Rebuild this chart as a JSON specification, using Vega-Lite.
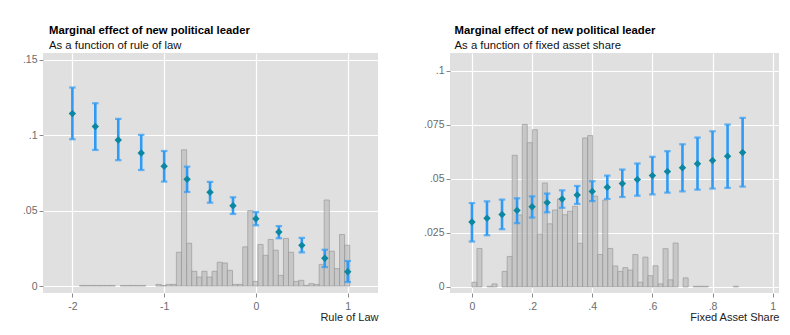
{
  "$schema": "https://vega.github.io/schema/vega-lite/v6.json",
  "background": "white",
  "padding": {"left": 18, "top": 25, "right": 5, "bottom": 5},
  "spacing": 45,
  "config": {
    "font": "Liberation Sans",
    "view": {"fill": "#e0e0e0", "stroke": null},
    "axis": {
      "domain": false,
      "grid": true,
      "gridColor": "#ffffff",
      "gridWidth": 1.2,
      "tickColor": "#8a8a8a",
      "tickSize": 4,
      "labelColor": "#6b6b6b",
      "labelFont": "Liberation Sans",
      "labelFontSize": 10.5,
      "titleFont": "Liberation Sans",
      "titleFontWeight": "normal",
      "titleFontSize": 11,
      "titleColor": "#222222"
    },
    "axisY": {"labelPadding": 2, "minExtent": 25, "maxExtent": 25},
    "axisX": {"labelPadding": 4, "titlePadding": 0, "titleAnchor": "end"},
    "title": {
      "fontSize": 11.3,
      "fontWeight": "bold",
      "color": "#000000",
      "subtitleFontSize": 11.3,
      "subtitleColor": "#111111",
      "subtitlePadding": 3,
      "anchor": "start",
      "offset": 2,
      "dx": 31
    }
  },
  "datasets": {
    "rol_hist": [
      {"x0": -1.922, "x1": -1.866, "density": 0.0004},
      {"x0": -1.866, "x1": -1.811, "density": 0.0004},
      {"x0": -1.811, "x1": -1.755, "density": 0.0004},
      {"x0": -1.755, "x1": -1.700, "density": 0.0004},
      {"x0": -1.700, "x1": -1.644, "density": 0.0004},
      {"x0": -1.644, "x1": -1.589, "density": 0.0004},
      {"x0": -1.589, "x1": -1.533, "density": 0.0004},
      {"x0": -1.478, "x1": -1.422, "density": 0.0004},
      {"x0": -1.422, "x1": -1.367, "density": 0.0004},
      {"x0": -1.367, "x1": -1.311, "density": 0.0004},
      {"x0": -1.311, "x1": -1.255, "density": 0.0004},
      {"x0": -1.255, "x1": -1.200, "density": 0.0004},
      {"x0": -1.089, "x1": -1.033, "density": 0.0011},
      {"x0": -1.033, "x1": -0.978, "density": 0.0004},
      {"x0": -0.978, "x1": -0.922, "density": 0.0011},
      {"x0": -0.922, "x1": -0.867, "density": 0.0011},
      {"x0": -0.867, "x1": -0.811, "density": 0.0224},
      {"x0": -0.811, "x1": -0.755, "density": 0.0904},
      {"x0": -0.755, "x1": -0.700, "density": 0.0284},
      {"x0": -0.700, "x1": -0.644, "density": 0.0098},
      {"x0": -0.644, "x1": -0.589, "density": 0.0060},
      {"x0": -0.589, "x1": -0.533, "density": 0.0098},
      {"x0": -0.533, "x1": -0.478, "density": 0.0060},
      {"x0": -0.478, "x1": -0.422, "density": 0.0098},
      {"x0": -0.422, "x1": -0.367, "density": 0.0158},
      {"x0": -0.367, "x1": -0.311, "density": 0.0153},
      {"x0": -0.311, "x1": -0.255, "density": 0.0104},
      {"x0": -0.255, "x1": -0.200, "density": 0.0011},
      {"x0": -0.200, "x1": -0.144, "density": 0.0011},
      {"x0": -0.144, "x1": -0.089, "density": 0.0260},
      {"x0": -0.089, "x1": -0.033, "density": 0.0500},
      {"x0": -0.033, "x1": 0.022, "density": 0.0031},
      {"x0": 0.022, "x1": 0.078, "density": 0.0276},
      {"x0": 0.078, "x1": 0.133, "density": 0.0204},
      {"x0": 0.133, "x1": 0.189, "density": 0.0309},
      {"x0": 0.189, "x1": 0.244, "density": 0.0238},
      {"x0": 0.244, "x1": 0.300, "density": 0.0071},
      {"x0": 0.300, "x1": 0.355, "density": 0.0316},
      {"x0": 0.355, "x1": 0.411, "density": 0.0224},
      {"x0": 0.411, "x1": 0.466, "density": 0.0031},
      {"x0": 0.466, "x1": 0.522, "density": 0.0038},
      {"x0": 0.522, "x1": 0.577, "density": 0.0004},
      {"x0": 0.577, "x1": 0.633, "density": 0.0016},
      {"x0": 0.633, "x1": 0.689, "density": 0.0011},
      {"x0": 0.689, "x1": 0.744, "density": 0.0144},
      {"x0": 0.744, "x1": 0.800, "density": 0.0571},
      {"x0": 0.800, "x1": 0.855, "density": 0.0231},
      {"x0": 0.855, "x1": 0.911, "density": 0.0116},
      {"x0": 0.911, "x1": 0.966, "density": 0.0342},
      {"x0": 0.966, "x1": 1.022, "density": 0.0271}
    ],
    "rol_me": [
      {"x": -2, "est": 0.1144, "lo": 0.0974, "hi": 0.1317},
      {"x": -1.75, "est": 0.1058, "lo": 0.0903, "hi": 0.1213},
      {"x": -1.5, "est": 0.0969, "lo": 0.0835, "hi": 0.1109},
      {"x": -1.25, "est": 0.0883, "lo": 0.0770, "hi": 0.1003},
      {"x": -1, "est": 0.0795, "lo": 0.0693, "hi": 0.0896},
      {"x": -0.75, "est": 0.0708, "lo": 0.0624, "hi": 0.0792},
      {"x": -0.5, "est": 0.0622, "lo": 0.0553, "hi": 0.0691},
      {"x": -0.25, "est": 0.0533, "lo": 0.0478, "hi": 0.0589},
      {"x": 0, "est": 0.0447, "lo": 0.0403, "hi": 0.0491},
      {"x": 0.25, "est": 0.0359, "lo": 0.0317, "hi": 0.0398},
      {"x": 0.5, "est": 0.0270, "lo": 0.0224, "hi": 0.0319},
      {"x": 0.75, "est": 0.0184, "lo": 0.0126, "hi": 0.0241},
      {"x": 1, "est": 0.0095, "lo": 0.0027, "hi": 0.0166}
    ],
    "fas_hist": [
      {"x0": 0.0000, "x1": 0.0167, "density": 0.0022},
      {"x0": 0.0167, "x1": 0.0334, "density": 0.0178},
      {"x0": 0.0502, "x1": 0.0669, "density": 0.0003},
      {"x0": 0.0669, "x1": 0.0836, "density": 0.0014},
      {"x0": 0.1003, "x1": 0.1171, "density": 0.0072},
      {"x0": 0.1171, "x1": 0.1338, "density": 0.0141},
      {"x0": 0.1338, "x1": 0.1505, "density": 0.0609},
      {"x0": 0.1505, "x1": 0.1672, "density": 0.0333},
      {"x0": 0.1672, "x1": 0.1839, "density": 0.0752},
      {"x0": 0.1839, "x1": 0.2007, "density": 0.0667},
      {"x0": 0.2007, "x1": 0.2174, "density": 0.0727},
      {"x0": 0.2174, "x1": 0.2341, "density": 0.0245},
      {"x0": 0.2341, "x1": 0.2508, "density": 0.0481},
      {"x0": 0.2508, "x1": 0.2676, "density": 0.0292},
      {"x0": 0.2676, "x1": 0.2843, "density": 0.0356},
      {"x0": 0.2843, "x1": 0.3010, "density": 0.0407},
      {"x0": 0.3010, "x1": 0.3177, "density": 0.0334},
      {"x0": 0.3177, "x1": 0.3344, "density": 0.0350},
      {"x0": 0.3344, "x1": 0.3512, "density": 0.0373},
      {"x0": 0.3512, "x1": 0.3679, "density": 0.0202},
      {"x0": 0.3679, "x1": 0.3846, "density": 0.0689},
      {"x0": 0.3846, "x1": 0.4013, "density": 0.0700},
      {"x0": 0.4013, "x1": 0.4181, "density": 0.0420},
      {"x0": 0.4181, "x1": 0.4348, "density": 0.0150},
      {"x0": 0.4348, "x1": 0.4515, "density": 0.0402},
      {"x0": 0.4515, "x1": 0.4682, "density": 0.0178},
      {"x0": 0.4682, "x1": 0.4849, "density": 0.0097},
      {"x0": 0.4849, "x1": 0.5017, "density": 0.0072},
      {"x0": 0.5017, "x1": 0.5184, "density": 0.0089},
      {"x0": 0.5184, "x1": 0.5351, "density": 0.0078},
      {"x0": 0.5351, "x1": 0.5518, "density": 0.0150},
      {"x0": 0.5518, "x1": 0.5685, "density": 0.0022},
      {"x0": 0.5685, "x1": 0.5853, "density": 0.0138},
      {"x0": 0.5853, "x1": 0.6020, "density": 0.0052},
      {"x0": 0.6020, "x1": 0.6187, "density": 0.0098},
      {"x0": 0.6187, "x1": 0.6354, "density": 0.0014},
      {"x0": 0.6354, "x1": 0.6522, "density": 0.0177},
      {"x0": 0.6522, "x1": 0.6689, "density": 0.0033},
      {"x0": 0.6689, "x1": 0.6856, "density": 0.0203},
      {"x0": 0.7023, "x1": 0.7190, "density": 0.0042},
      {"x0": 0.7358, "x1": 0.7525, "density": 0.0003},
      {"x0": 0.7525, "x1": 0.7692, "density": 0.0003},
      {"x0": 0.7692, "x1": 0.7859, "density": 0.0003},
      {"x0": 0.8695, "x1": 0.8863, "density": 0.0003}
    ],
    "fas_me": [
      {"x": 0, "est": 0.0300, "lo": 0.0210, "hi": 0.0388},
      {"x": 0.05, "est": 0.0318, "lo": 0.0239, "hi": 0.0396},
      {"x": 0.1, "est": 0.0335, "lo": 0.0267, "hi": 0.0404},
      {"x": 0.15, "est": 0.0354, "lo": 0.0295, "hi": 0.0410},
      {"x": 0.2, "est": 0.0371, "lo": 0.0321, "hi": 0.0419},
      {"x": 0.25, "est": 0.0390, "lo": 0.0345, "hi": 0.0432},
      {"x": 0.3, "est": 0.0407, "lo": 0.0366, "hi": 0.0447},
      {"x": 0.35, "est": 0.0425, "lo": 0.0384, "hi": 0.0467},
      {"x": 0.4, "est": 0.0442, "lo": 0.0397, "hi": 0.0489},
      {"x": 0.45, "est": 0.0461, "lo": 0.0407, "hi": 0.0515},
      {"x": 0.5, "est": 0.0478, "lo": 0.0416, "hi": 0.0543},
      {"x": 0.55, "est": 0.0497, "lo": 0.0422, "hi": 0.0571},
      {"x": 0.6, "est": 0.0515, "lo": 0.0428, "hi": 0.0602},
      {"x": 0.65, "est": 0.0534, "lo": 0.0436, "hi": 0.0628},
      {"x": 0.7, "est": 0.0551, "lo": 0.0442, "hi": 0.0660},
      {"x": 0.75, "est": 0.0570, "lo": 0.0450, "hi": 0.0691},
      {"x": 0.8, "est": 0.0585, "lo": 0.0455, "hi": 0.0720},
      {"x": 0.85, "est": 0.0605, "lo": 0.0458, "hi": 0.0751},
      {"x": 0.9, "est": 0.0622, "lo": 0.0464, "hi": 0.0782}
    ]
  },
  "hconcat": [
    {
      "width": 335,
      "height": 240,
      "title": {"text": "Marginal effect of new political leader", "subtitle": "As a function of rule of law"},
      "layer": [
        {
          "data": {"name": "rol_hist"},
          "mark": {"type": "rect", "fill": "#bcbcbc", "fillOpacity": 0.7, "stroke": "#999999", "strokeWidth": 0.8, "strokeOpacity": 0.85},
          "encoding": {
            "x": {"field": "x0", "type": "quantitative", "title": "Rule of Law",
              "scale": {"domain": [-2.32, 1.33], "nice": false, "zero": false},
              "axis": {"values": [-2, -1, 0, 1], "labelExpr": "replace(toString(datum.value), '0.', '.')"}},
            "x2": {"field": "x1"},
            "y": {"field": "density", "type": "quantitative", "title": null,
              "scale": {"domain": [-0.0046, 0.1546], "nice": false, "zero": false},
              "axis": {"values": [0, 0.05, 0.1, 0.15], "labelExpr": "replace(toString(datum.value), '0.', '.')"}},
            "y2": {"datum": 0}
          }
        },
        {
          "data": {"name": "rol_me"},
          "mark": {"type": "rule", "color": "#2f9bf4", "strokeWidth": 2.6},
          "encoding": {
            "x": {"field": "x", "type": "quantitative", "title": "Rule of Law"},
            "y": {"field": "lo", "type": "quantitative", "title": null},
            "y2": {"field": "hi"}
          }
        },
        {
          "data": {"name": "rol_me"},
          "mark": {"type": "tick", "orient": "horizontal", "color": "#2f9bf4", "size": 6.5, "thickness": 2.2},
          "encoding": {
            "x": {"field": "x", "type": "quantitative", "title": "Rule of Law"},
            "y": {"field": "lo", "type": "quantitative", "title": null}
          }
        },
        {
          "data": {"name": "rol_me"},
          "mark": {"type": "tick", "orient": "horizontal", "color": "#2f9bf4", "size": 6.5, "thickness": 2.2},
          "encoding": {
            "x": {"field": "x", "type": "quantitative", "title": "Rule of Law"},
            "y": {"field": "hi", "type": "quantitative", "title": null}
          }
        },
        {
          "data": {"name": "rol_me"},
          "mark": {"type": "point", "shape": "diamond", "filled": true, "color": "#0a87a3", "size": 55, "opacity": 1},
          "encoding": {
            "x": {"field": "x", "type": "quantitative", "title": "Rule of Law"},
            "y": {"field": "est", "type": "quantitative", "title": null}
          }
        }
      ]
    },
    {
      "width": 329,
      "height": 240,
      "title": {"text": "Marginal effect of new political leader", "subtitle": "As a function of fixed asset share"},
      "layer": [
        {
          "data": {"name": "fas_hist"},
          "mark": {"type": "rect", "fill": "#bcbcbc", "fillOpacity": 0.7, "stroke": "#999999", "strokeWidth": 0.8, "strokeOpacity": 0.85},
          "encoding": {
            "x": {"field": "x0", "type": "quantitative", "title": "Fixed Asset Share",
              "scale": {"domain": [-0.073, 1.021], "nice": false, "zero": false},
              "axis": {"values": [0, 0.2, 0.4, 0.6, 0.8, 1], "labelExpr": "replace(toString(datum.value), '0.', '.')"}},
            "x2": {"field": "x1"},
            "y": {"field": "density", "type": "quantitative", "title": null,
              "scale": {"domain": [-0.0028, 0.1082], "nice": false, "zero": false},
              "axis": {"values": [0, 0.025, 0.05, 0.075, 0.1], "labelExpr": "replace(toString(datum.value), '0.', '.')"}},
            "y2": {"datum": 0}
          }
        },
        {
          "data": {"name": "fas_me"},
          "mark": {"type": "rule", "color": "#2f9bf4", "strokeWidth": 2.6},
          "encoding": {
            "x": {"field": "x", "type": "quantitative", "title": "Fixed Asset Share"},
            "y": {"field": "lo", "type": "quantitative", "title": null},
            "y2": {"field": "hi"}
          }
        },
        {
          "data": {"name": "fas_me"},
          "mark": {"type": "tick", "orient": "horizontal", "color": "#2f9bf4", "size": 6.5, "thickness": 2.2},
          "encoding": {
            "x": {"field": "x", "type": "quantitative", "title": "Fixed Asset Share"},
            "y": {"field": "lo", "type": "quantitative", "title": null}
          }
        },
        {
          "data": {"name": "fas_me"},
          "mark": {"type": "tick", "orient": "horizontal", "color": "#2f9bf4", "size": 6.5, "thickness": 2.2},
          "encoding": {
            "x": {"field": "x", "type": "quantitative", "title": "Fixed Asset Share"},
            "y": {"field": "hi", "type": "quantitative", "title": null}
          }
        },
        {
          "data": {"name": "fas_me"},
          "mark": {"type": "point", "shape": "diamond", "filled": true, "color": "#0a87a3", "size": 55, "opacity": 1},
          "encoding": {
            "x": {"field": "x", "type": "quantitative", "title": "Fixed Asset Share"},
            "y": {"field": "est", "type": "quantitative", "title": null}
          }
        }
      ]
    }
  ]
}
